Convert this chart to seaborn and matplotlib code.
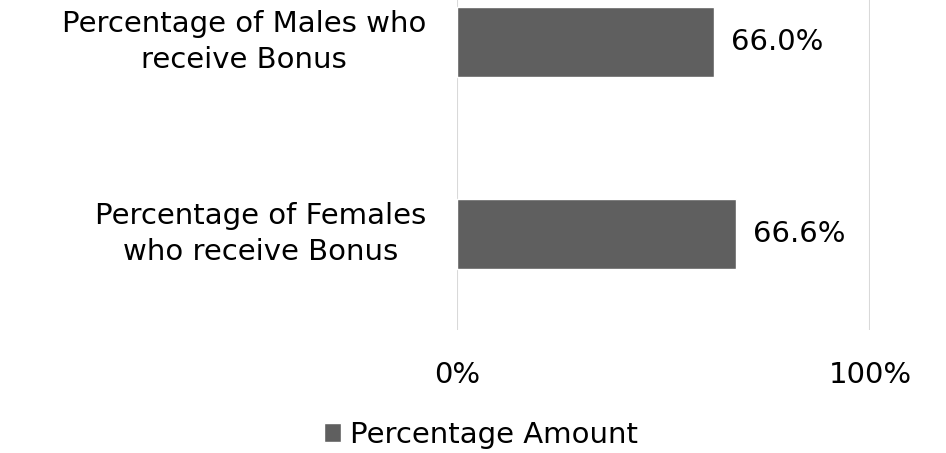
"""
Bonus recipients by gender - horizontal bar chart
"""

import matplotlib
matplotlib.use("Agg")
import matplotlib.pyplot as plt
import seaborn as sns

# Data
categories = ["Percentage of Males who\nreceive Bonus",
              "Percentage of Females\nwho receive Bonus"]
bar_values = [62.2, 67.6]          # drawn bar lengths (% of axis)
value_labels = ["66.0%", "66.6%"]  # printed data labels
x_ticks = [0, 100]
x_tick_labels = ["0%", "100%"]
series_name = "Percentage Amount"

sns.set_theme(style="white")
plt.rcParams["font.family"] = ["DejaVu Sans"]
FS = 21

W, H = 946, 453
fig = plt.figure(figsize=(W / 100, H / 100), dpi=100)

# plot area in pixel coordinates (top runs off the image)
left, right, top, bottom = 457, 870, -54, 330
ax = fig.add_axes([left / W, (H - bottom) / H, (right - left) / W, (bottom - top) / H])

sns.barplot(x=bar_values, y=categories, orient="h", color="#5f5f5f",
            width=0.36, saturation=1, label=series_name, ax=ax)
if ax.get_legend() is not None:
    ax.get_legend().remove()

ax.set_xlim(0, 100)
ax.set_ylim(1.5, -0.5)
ax.set_xticks(x_ticks)
ax.set_xticklabels(x_tick_labels)
for x in x_ticks:
    ax.axvline(x, color="#d9d9d9", lw=1.5, zorder=0)

for s in ax.spines.values():
    s.set_visible(False)
ax.tick_params(axis="both", length=0, labelsize=FS, colors="black")
ax.tick_params(axis="x", pad=22)
ax.tick_params(axis="y", pad=22)
for lab in ax.get_yticklabels():
    lab.set_multialignment("center")
    lab.set_linespacing(1.35)
    lab.set_verticalalignment("center")
ax.set_xlabel("")
ax.set_ylabel("")

# data labels at the end of each bar
for i, (v, txt) in enumerate(zip(bar_values, value_labels)):
    ax.annotate(txt, (v, i), xytext=(12, 0), textcoords="offset points",
                ha="left", va="center", fontsize=FS, color="black")

handles, labels = ax.get_legend_handles_labels()
fig.legend(handles, labels, loc="center", bbox_to_anchor=(481 / W, 1 - 435 / H),
           frameon=False, fontsize=FS, labelcolor="black", handlelength=0.6,
           handleheight=0.6, handletextpad=0.3)

fig.savefig("out.png", dpi=100, facecolor="white")
